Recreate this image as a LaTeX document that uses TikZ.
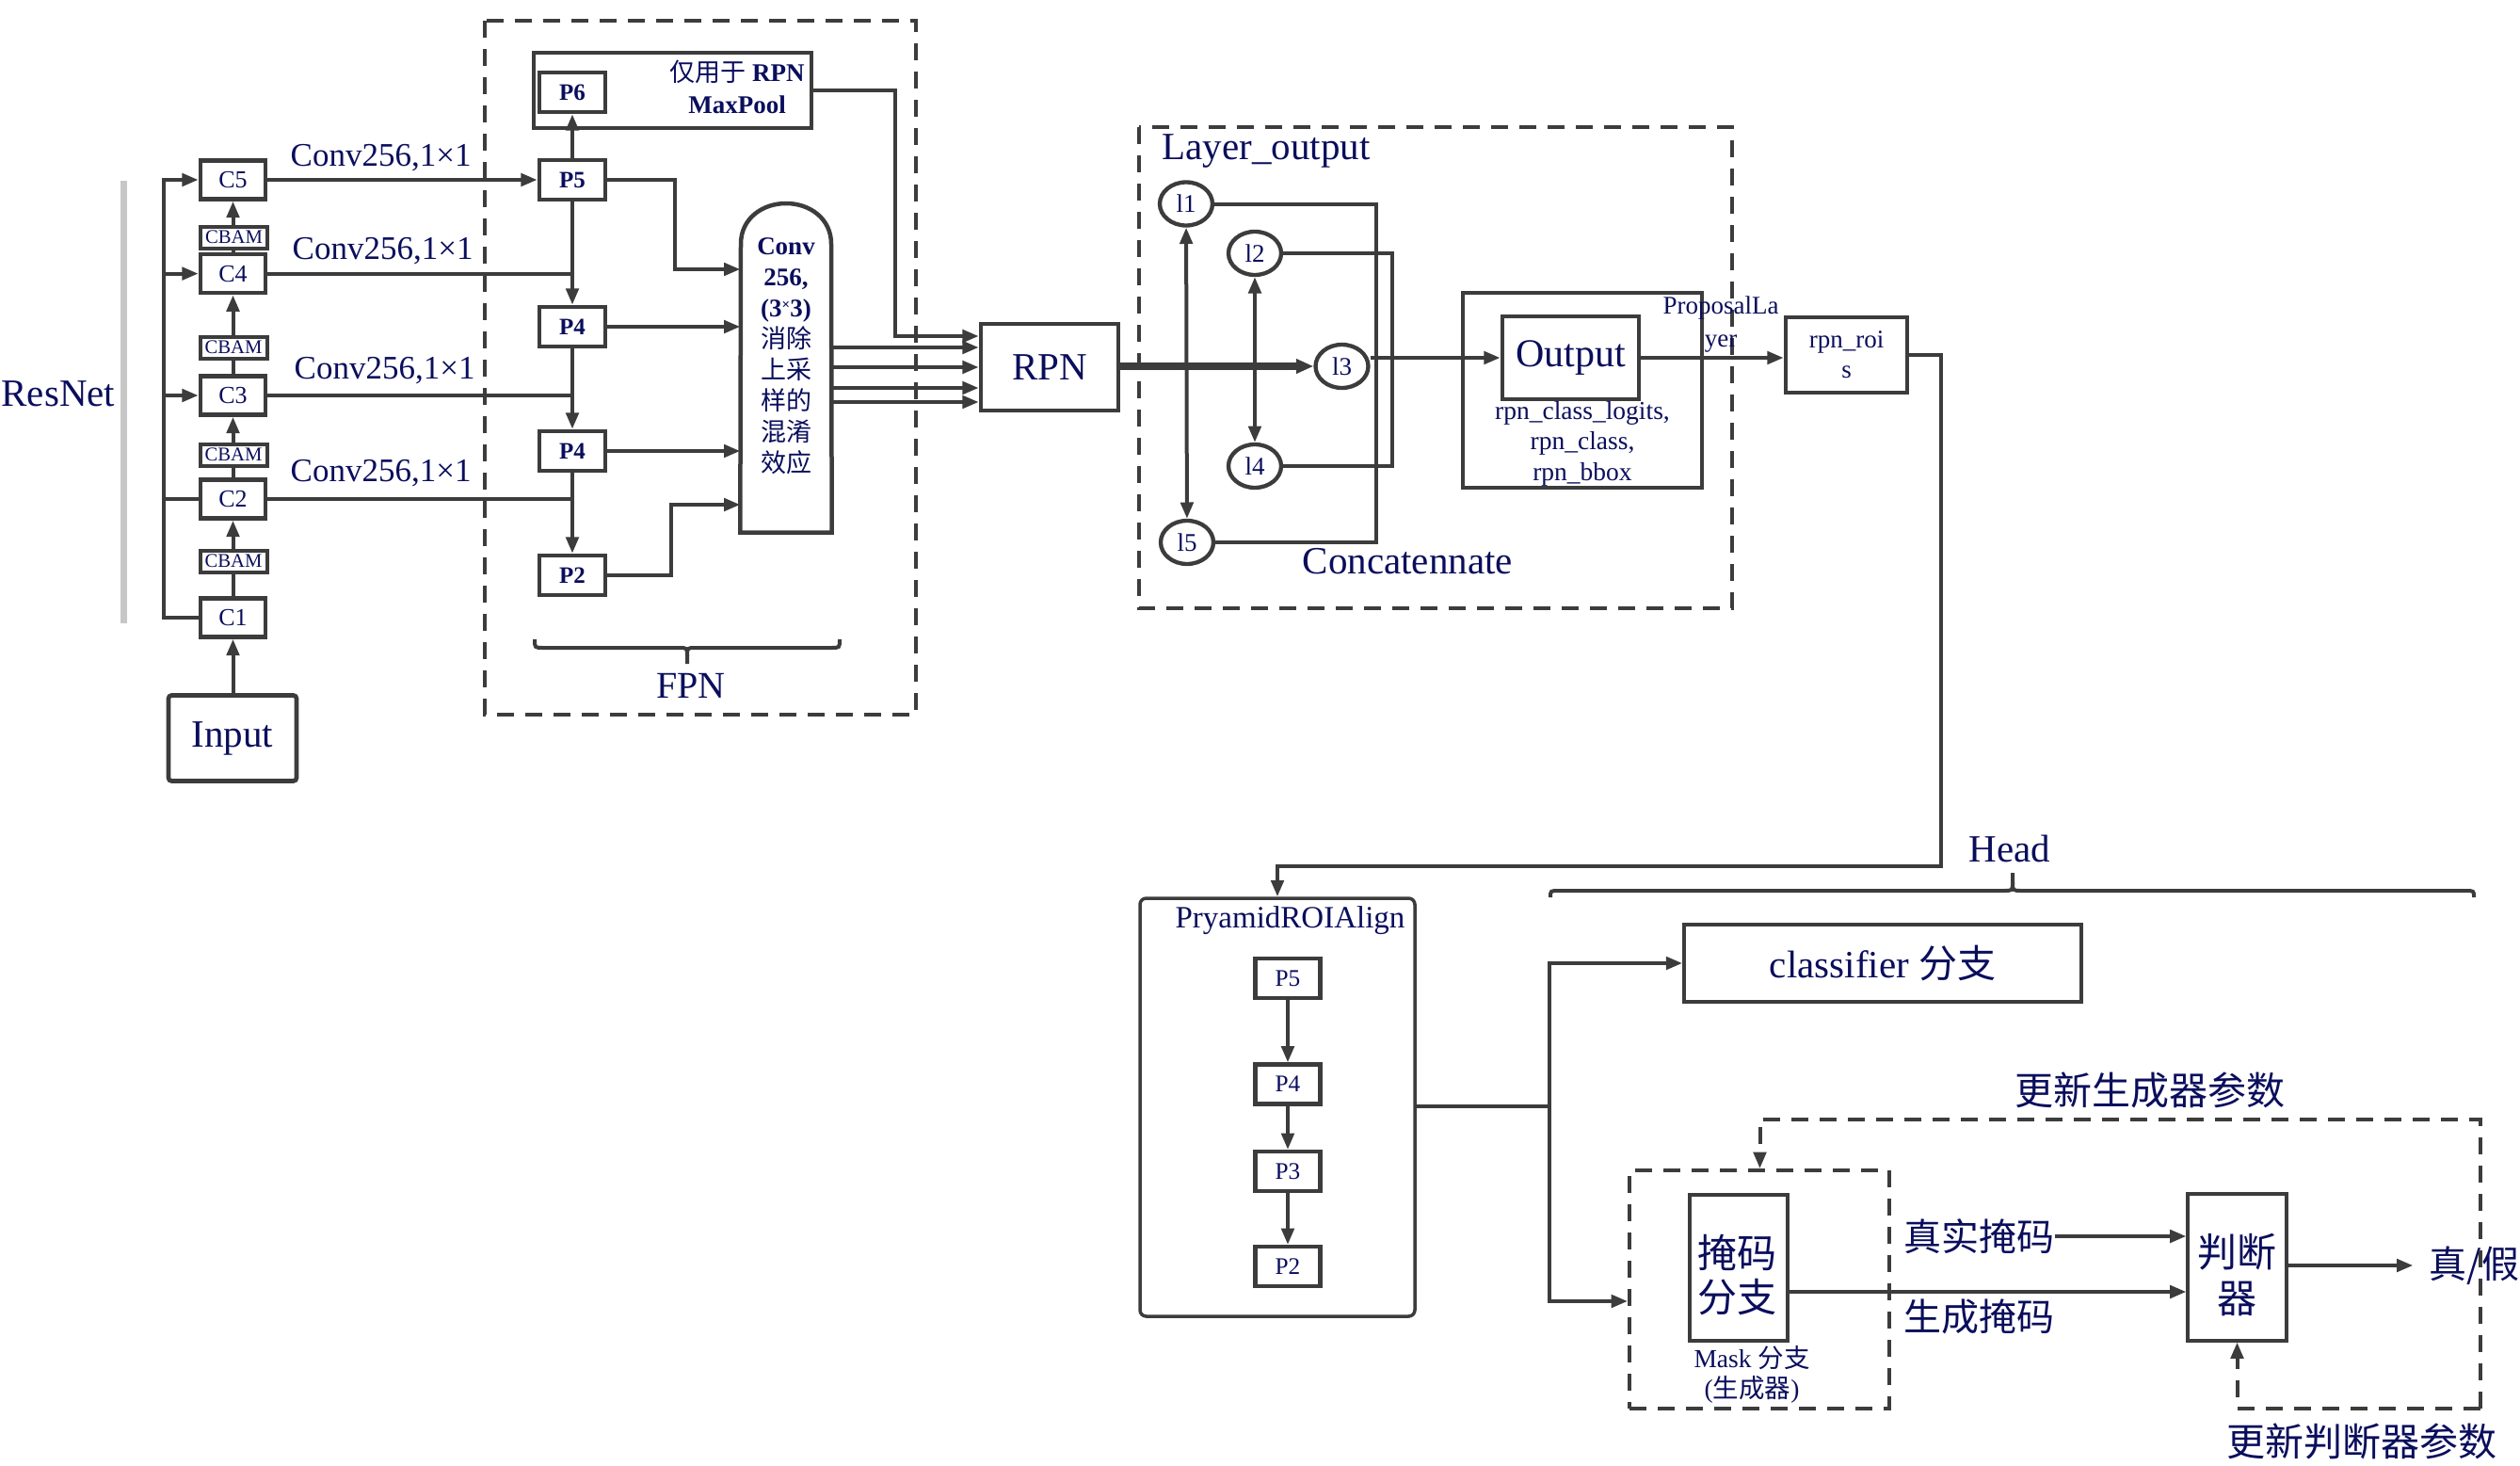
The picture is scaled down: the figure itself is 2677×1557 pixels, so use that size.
\documentclass[tikz,border=0pt]{standalone}
\usepackage{fontspec}
\setmainfont{Liberation Serif}
\newfontfamily\cjk{Noto Sans CJK SC}
\usetikzlibrary{arrows.meta,shapes.geometric}
\definecolor{lc}{RGB}{60,60,60}
\definecolor{tx}{RGB}{10,14,92}
\newcommand\fsz[2]{\fontsize{#1pt}{#2pt}\selectfont}
\begin{document}
\begin{tikzpicture}[x=0.3pt, y=-0.3pt,
  every node/.style={text=tx, inner sep=0pt},
  ln/.style={draw=lc, line width=1.2pt},
  arr/.style={ln, -{Triangle[length=5.2pt,width=4pt]}},
  darr/.style={ln, {Triangle[length=5.2pt,width=4pt]}-{Triangle[length=5.2pt,width=4pt]}},
  dsh/.style={draw=lc, line width=1.2pt, dash pattern=on 5.4pt off 3.6pt},
  tbox/.style={draw=lc, line width=1.4pt, fill=white, rectangle},
  nbox/.style={draw=lc, line width=0.95pt, fill=white, rectangle},
  cbox/.style={tbox, minimum width=20.7pt, minimum height=12.3pt, font=\fsz{7.8}{9}},
  cbam/.style={draw=lc, line width=1.2pt, fill=white, minimum width=21.3pt, minimum height=6.9pt, font=\fsz{6.2}{7}},
  pbox/.style={tbox, minimum width=21pt, minimum height=12.6pt, font=\bfseries\fsz{7.5}{9}},
  rbox/.style={tbox, line width=1.25pt, minimum width=20.7pt, minimum height=12.6pt, font=\fsz{7.6}{9}},
  circ/.style={ellipse, draw=lc, line width=1.3pt, fill=white, minimum width=16.8pt, minimum height=13.8pt, font=\fsz{8.1}{9}},
]
\useasboundingbox (0,0) rectangle (2677,1557);

% ---------------- ResNet ----------------
\draw[line width=2.1pt, draw=black!22] (131,192) -- (131,662);
\node[font=\fsz{12.3}{14}] (resnet) at (62,418) {ResNet};

\node[cbox] (C5) at (247.5,191) {C5};
\node[cbox] (C4) at (247.5,290.6) {C4};
\node[cbox] (C3) at (247.5,420) {C3};
\node[cbox] (C2) at (247.5,530) {C2};
\node[cbox] (C1) at (247.5,656) {C1};
\node[tbox, rounded corners=1pt, minimum width=40.8pt, minimum height=27.3pt, font=\fsz{12.3}{14}] (inp) at (247,784) {Input};

\draw[arr] (inp.north -| C1.south) -- (C1.south);
\draw[arr] (C1.north) -- (C2.south);
\draw[arr] (C2.north) -- (C3.south);
\draw[arr] (C3.north) -- (C4.south);
\draw[arr] (C4.north) -- (C5.south);

\node[cbam] (cb1) at (248.5,252) {CBAM};
\node[cbam] (cb2) at (248,369) {CBAM};
\node[cbam] (cb3) at (248,483) {CBAM};
\node[cbam] (cb4) at (248,596) {CBAM};

\coordinate (bus) at (174,191);
\draw[arr] (C1.west) -- (C1.west -| bus) -- (bus) -- (C5.west);
\draw[arr] (C4.west -| bus) -- (C4.west);
\draw[arr] (C3.west -| bus) -- (C3.west);
\draw[ln] (C2.west -| bus) -- (C2.west);

\node[font=\fsz{10.5}{12}, anchor=base west] (k5) at (308,176) {Conv256,1×1};
\node[font=\fsz{10.5}{12}, anchor=base west] (k4) at (310,275) {Conv256,1×1};
\node[font=\fsz{10.5}{12}, anchor=base west] (k3) at (312,402) {Conv256,1×1};
\node[font=\fsz{10.5}{12}, anchor=base west] (k2) at (308,511) {Conv256,1×1};

% ---------------- FPN ----------------
\draw[dsh] (515,22) rectangle (973,759);
\node[nbox, minimum width=88.5pt, minimum height=24pt] (mp) at (714.5,96) {};
\node[font=\bfseries\fsz{8.1}{10.2}, align=center] (mptxt) at (783,92) {{\cjk\mdseries 仅用于} RPN\\MaxPool};

\node[pbox] (P6) at (608,98) {P6};
\node[pbox] (P5) at (608,191) {P5};
\node[pbox] (P4a) at (608,347) {P4};
\node[pbox] (P4b) at (608,479) {P4};
\node[pbox] (P2) at (608,611) {P2};

\draw[arr] (C5.east) -- (P5.west);
\draw[ln] (C4.east) -- (C4.east -| P5.south);
\draw[ln] (C3.east) -- (C3.east -| P5.south);
\draw[ln] (C2.east) -- (C2.east -| P5.south);
\draw[arr] (P5.north) -- (P6.south);
\draw[arr] (P5.south) -- (P4a.north);
\draw[arr] (P4a.south) -- (P4b.north);
\draw[arr] (P4b.south) -- (P2.north);

\node[minimum width=28.8pt, minimum height=104.7pt] (conv) at (835,390.5) {};
\draw[draw=lc, line width=1.35pt, fill=white] (conv.south west) -- (787,259) .. controls (787,232) and (810,216) .. (835,216) .. controls (860,216) and (883,232) .. (883,259) -- (conv.south east) -- cycle;
\node[font=\bfseries\fsz{8.1}{9.9}, align=center] (convtxt) at (835,378) {Conv\\256,\\(3\raisebox{0.6ex}{\fontsize{4.5pt}{5pt}\selectfont ×}3)\\{\cjk\mdseries 消除}\\{\cjk\mdseries 上采}\\{\cjk\mdseries 样的}\\{\cjk\mdseries 混淆}\\{\cjk\mdseries 效应}};

\draw[arr] (P5.east) -- (716.7,191) -- (716.7,286) -- (conv.west |- 0,286);
\draw[arr] (P4a.east) -- (conv.west |- P4a.east);
\draw[arr] (P4b.east) -- (conv.west |- P4b.east);
\draw[arr] (P2.east) -- (713,611) -- (713,536) -- (conv.west |- 0,536);

\draw[ln] (568,679) .. controls (568,688) .. (577,688) -- (721,688) .. controls (730,688) .. (730,697) -- (730,705);
\draw[ln] (892,679) .. controls (892,688) .. (883,688) -- (739,688) .. controls (730,688) .. (730,697);
\node[font=\fsz{12}{14}] (fpn) at (734,728) {FPN};

% ---------------- RPN ----------------
\node[tbox, minimum width=43.8pt, minimum height=27.6pt, font=\fsz{12.3}{14}] (RPN) at (1115,390) {RPN};
\foreach \yy in {369,390,412,427} \draw[arr] (conv.east |- 0,\yy) -- (RPN.west |- 0,\yy);
\draw[arr] (mp.east) -- (951,96) -- (951,357) -- (RPN.west |- 0,357);

% ---------------- Layer output ----------------
\draw[dsh] (1210,135) rectangle (1840,646);
\node[font=\fsz{12.3}{14}, anchor=base west] (lo) at (1234,169) {Layer\_output};
\node[circ] (l1) at (1260,216.5) {l1};
\node[circ] (l2) at (1333,269) {l2};
\node[circ] (l3) at (1425.5,389) {l3};
\node[circ] (l4) at (1333,495) {l4};
\node[circ] (l5) at (1261,576) {l5};

\draw[darr] (l1) -- (l5);
\draw[darr] (l2) -- (l4);
\draw[draw=lc, line width=2.2pt, -{Triangle[length=5.5pt,width=4.4pt]}] (RPN.east |- l3.west) -- (l3.west);

\coordinate (bx1) at (1462,0);
\coordinate (bx2) at (1479,0);
\draw[ln] (l1.east) -- (l1.east -| bx1) -- (l5.east -| bx1) -- (l5.east);
\draw[ln] (l2.east) -- (l2.east -| bx2) -- (l4.east -| bx2) -- (l4.east);
\node[font=\fsz{12.3}{14}, anchor=base west] (cat) at (1383,609) {Concatennate};

\node[nbox, minimum width=76.2pt, minimum height=62.1pt] (outer) at (1681,414.5) {};
\node[tbox, minimum width=43.5pt, minimum height=26.4pt, font=\fsz{12.6}{14}] (out) at (1668.5,380) {Output};
\node[font=\fsz{8.25}{9.75}, align=center] (rpntxt) at (1681,471) {rpn\_class\_logits,\\rpn\_class,\\rpn\_bbox};
\draw[arr] (l3.east |- out.west) -- (out.west);

\node[tbox, minimum width=38.7pt, minimum height=24pt, font=\fsz{8.1}{9.6}, align=center] (rois) at (1961.5,377) {rpn\_roi\\s};
\draw[arr] (out.east) -- (rois.west |- out.east);
\node[font=\fsz{8.1}{10.5}, align=center] (prop) at (1828,345) {ProposalLa\\yer};

% ---------------- ROI Align ----------------
\node[draw=lc, line width=1.05pt, rounded corners=2pt, minimum width=87.6pt, minimum height=133.2pt] (roi) at (1357,1176) {};
\node[font=\fsz{9.9}{12}] (roitxt) at (1370.5,978) {PryamidROIAlign};
\coordinate (rv) at (2062,0);
\draw[arr] (rois.east) -- (rois.east -| rv) -- (rv |- 0,920) -- (roi.north |- 0,920) -- (roi.north);

\node[rbox] (R5) at (1368,1039) {P5};
\node[rbox] (R4) at (1368,1151.5) {P4};
\node[rbox] (R3) at (1368,1244) {P3};
\node[rbox] (R2) at (1368,1345) {P2};
\draw[arr] (R5.south) -- (R4.north);
\draw[arr] (R4.south) -- (R3.north);
\draw[arr] (R3.south) -- (R2.north);

% ---------------- Head ----------------
\draw[ln] (1647,953) .. controls (1647,946) .. (1656,946) -- (2128,946) .. controls (2138,946) .. (2138,937) -- (2138,927);
\draw[ln] (2628,953) .. controls (2628,946) .. (2619,946) -- (2148,946) .. controls (2138,946) .. (2138,937);
\node[font=\fsz{12.3}{14}] (head) at (2135,901) {Head};

\node[nbox, line width=1.1pt, minimum width=126.6pt, minimum height=24.6pt, font=\fsz{12.3}{14}] (cls) at (2000,1023) {classifier {\cjk 分支}};

\node[dsh, minimum width=82.65pt, minimum height=75.8pt] (maskd) at (1868.75,1369.3) {};
\node[nbox, minimum width=31.2pt, minimum height=46.5pt] (maskin) at (1847,1346.5) {};
\node[font=\cjk\fsz{12.6}{14.1}, align=center] (masktxt) at (1845,1354) {掩码\\分支};
\node[font=\fsz{8.25}{9.6}, align=center] (masklbl) at (1861,1460) {Mask {\cjk 分支}\\({\cjk 生成器})};

\coordinate (vb) at (1646,0);
\draw[arr] (roi.east |- 0,1175) -- (vb |- 0,1175) |- (cls.west);
\draw[arr] (vb |- 0,1175) |- (maskd.west |- 0,1382);

\node[nbox, minimum width=31.5pt, minimum height=46.8pt] (judge) at (2376.5,1346) {};
\node[font=\cjk\fsz{12.6}{14.7}, align=center] (judgetxt) at (2376.5,1354) {判断\\器};

\node[font=\cjk\fsz{12}{14}] (t1) at (2102,1313) {真实掩码};
\node[font=\cjk\fsz{12}{14}] (t2) at (2102,1398) {生成掩码};
\draw[arr] (t1.east) -- (judge.west |- t1.east);
\draw[arr] (maskin.east |- 0,1372) -- (judge.west |- 0,1372);

\node[font=\cjk\fsz{12}{14}, anchor=west] (tf) at (2580,1344) {真/假};
\draw[arr, shorten >=5pt] (judge.east |- tf.west) -- (tf.west);

\coordinate (ltop) at (1869.5,1189);
\coordinate (rtop) at (2634.6,1189);
\coordinate (rbot) at (2634.6,1495.6);
\draw[dsh, -{Triangle[length=5.2pt,width=4pt]}] (rbot) -- (rtop) -- (ltop) -- (ltop |- maskd.north);
\draw[dsh, -{Triangle[length=5.2pt,width=4pt]}] (rbot) -- (judge.south |- rbot) -- (judge.south);
\node[font=\cjk\fsz{12.3}{14}] (upg) at (2284,1158) {更新生成器参数};
\node[font=\cjk\fsz{12.3}{14}] (upd) at (2509,1531) {更新判断器参数};
\end{tikzpicture}
\end{document}
